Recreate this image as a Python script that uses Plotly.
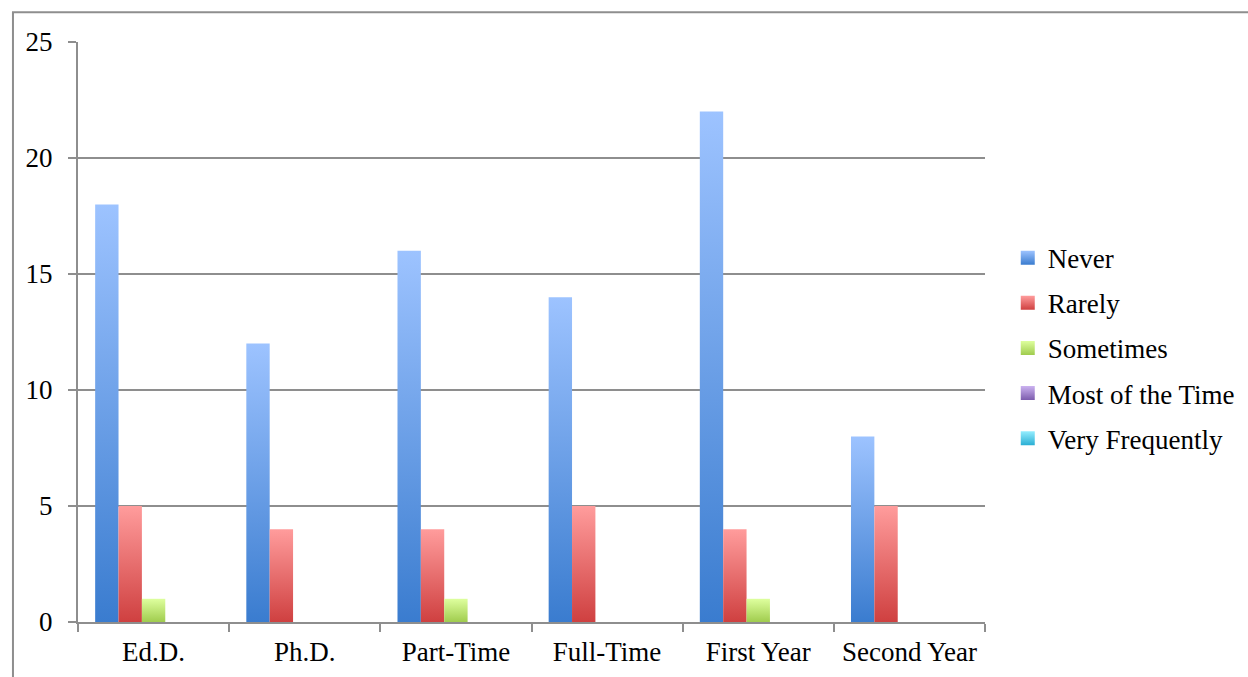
import plotly.graph_objects as go

# Survey responses per student group
categories = ["Ed.D.", "Ph.D.", "Part-Time", "Full-Time", "First Year", "Second Year"]
series_names = ["Never", "Rarely", "Sometimes", "Most of the Time", "Very Frequently"]
never = [18, 12, 16, 14, 22, 8]
rarely = [5, 4, 4, 5, 4, 5]
sometimes = [1, 0, 1, 0, 1, 0]
most_of_the_time = [0, 0, 0, 0, 0, 0]
very_frequently = [0, 0, 0, 0, 0, 0]
y_ticks = [0, 5, 10, 15, 20, 25]

series_values = [never, rarely, sometimes, most_of_the_time, very_frequently]

# (top colour, bottom colour) of each series' vertical gradient
gradients = [
    ("#9DC3FF", "#3A7CCF"),
    ("#FF9C9C", "#CF4040"),
    ("#DEFF9E", "#A0CC4E"),
    ("#CBB2F0", "#7C5CAD"),
    ("#95EEFF", "#2BAFD4"),
]

GAP = 0.1135                      # empty space at each side of a category
BAR_W = (1 - 2 * GAP) / len(series_names)
FONT = "Liberation Serif"
FONT_SIZE = 27
GRID = "#8E8E8E"

fig = go.Figure()

for s, (name, vals) in enumerate(zip(series_names, series_values)):
    top, bottom = gradients[s]
    for i, v in enumerate(vals):
        if not v:
            continue
        x0 = i - 0.5 + GAP + s * BAR_W
        x1 = x0 + BAR_W
        fig.add_trace(go.Scatter(
            x=[x0, x0, x1, x1, x0],
            y=[0, v, v, 0, 0],
            mode="none",
            fill="toself",
            fillgradient=dict(type="vertical", start=0, stop=v,
                              colorscale=[[0, bottom], [1, top]]),
            legendgroup=name,
            showlegend=False,
            hoverinfo="skip",
        ))
    # legend swatch for the series
    fig.add_trace(go.Scatter(
        x=[None], y=[None],
        mode="markers",
        name=name,
        legendgroup=name,
        marker=dict(symbol="square", size=14, color=top,
                    gradient=dict(type="vertical", color=bottom),
                    line=dict(width=0)),
    ))

fig.update_layout(
    width=1248, height=677,
    margin=dict(l=78, r=263, t=42, b=55),
    paper_bgcolor="white",
    plot_bgcolor="white",
    font=dict(family=FONT, size=FONT_SIZE, color="black"),
    showlegend=True,
    legend=dict(
        xref="container", yref="container",
        x=0.8075, xanchor="left",
        y=0.4857, yanchor="middle",
        traceorder="grouped",
        tracegroupgap=7,
        itemwidth=30,
        font=dict(family=FONT, size=FONT_SIZE, color="black"),
        bgcolor="rgba(0,0,0,0)",
    ),
    xaxis=dict(
        range=[-0.5, len(categories) - 0.5],
        tickmode="array",
        tickvals=list(range(len(categories))),
        ticktext=categories,
        ticks="",
        ticklabelstandoff=5,
        automargin=False,
        showgrid=False,
        zeroline=False,
        showline=True, linecolor=GRID, linewidth=2,
        minor=dict(
            tickmode="array",
            tickvals=[i - 0.5 for i in range(len(categories) + 1)],
            ticks="outside", ticklen=8, tickwidth=2, tickcolor=GRID,
            showgrid=False,
        ),
        fixedrange=True,
    ),
    yaxis=dict(
        range=[0, 25],
        tickmode="array",
        tickvals=y_ticks,
        ticks="outside", ticklen=8, tickwidth=2, tickcolor=GRID,
        ticklabelstandoff=10,
        automargin=False,
        showgrid=True, gridcolor=GRID, gridwidth=2,
        zeroline=False,
        showline=True, linecolor=GRID, linewidth=2,
        fixedrange=True,
    ),
    shapes=[
        dict(type="rect", xref="paper", yref="paper",
             x0=-0.0717, x1=1.4, y0=-0.3, y1=1.0515,
             line=dict(color=GRID, width=2), fillcolor="rgba(0,0,0,0)",
             layer="below"),
    ],
)

fig.write_html("out.html")
